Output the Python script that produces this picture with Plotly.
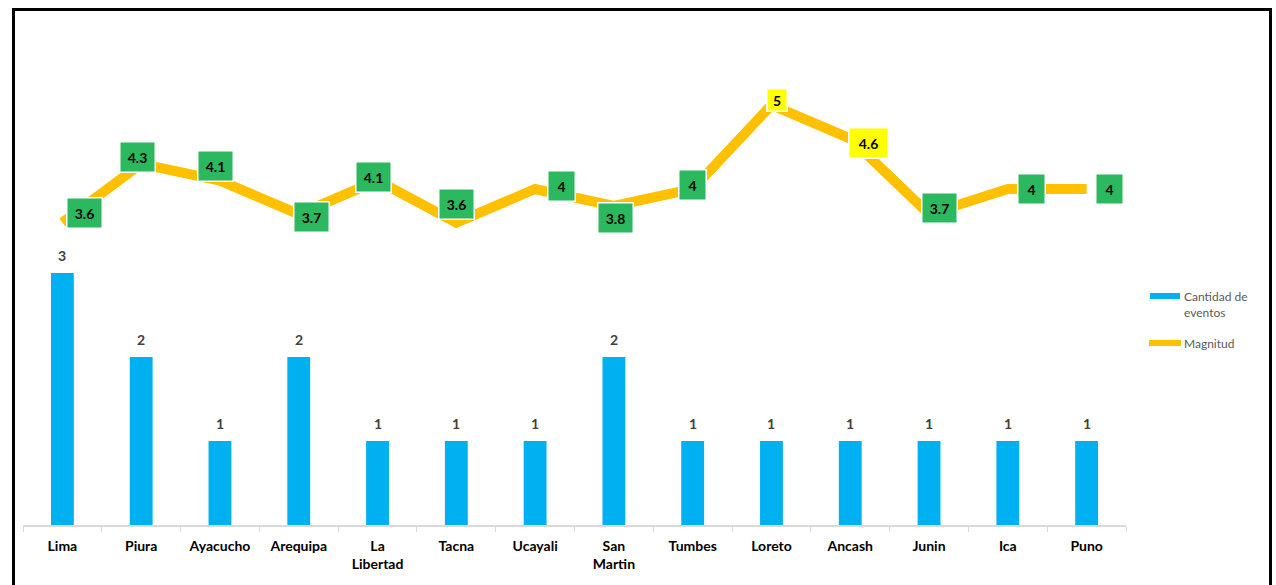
import plotly.graph_objects as go

regiones = ["Lima", "Piura", "Ayacucho", "Arequipa", "La<br>Libertad", "Tacna", "Ucayali",
            "San<br>Martin", "Tumbes", "Loreto", "Ancash", "Junin", "Ica", "Puno"]
cantidad = [3, 2, 1, 2, 1, 1, 1, 2, 1, 1, 1, 1, 1, 1]
magnitud = [3.6, 4.3, 4.1, 3.7, 4.1, 3.6, 4.0, 3.8, 4.0, 5.0, 4.6, 3.7, 4.0, 4.0]
etiqueta_dx = [22, -4, -4, 13, -4, 0, 26, 2, 0, 6, 18, 10, 24, 23]
etiqueta_dy = [10, 7, 15, -3, 4, 19, 3, -12, 4, 5, -4, 6, 0, 0]

W, H = 1276, 585
L, R, T, B = 23, 150, 21, 60
pw, ph = W - L - R, H - T - B

fig = go.Figure()
fig.add_trace(go.Bar(
    x=regiones, y=cantidad, name="Cantidad de eventos",
    marker=dict(color="#00B0F0", line=dict(width=0)), width=0.29,
    showlegend=False,
))
fig.add_trace(go.Scatter(
    x=regiones, y=magnitud, name="Magnitud", mode="lines",
    line=dict(color="#FFC000", width=10), showlegend=False,
))

for r, c in zip(regiones, cantidad):
    fig.add_annotation(
        x=r, y=c, xref="x", yref="y", text=f"<b>{c}</b>", showarrow=False,
        yanchor="middle", yshift=18,
        font=dict(family="Lato", size=14, color="#404040"),
    )

for i, (r, m) in enumerate(zip(regiones, magnitud)):
    yellow = m >= 4.5
    txt = f"{m:g}"
    single = len(txt) == 1
    fig.add_annotation(
        x=r, y=m, xref="x", yref="y", text=f"<b>{txt}</b>", showarrow=False,
        xshift=etiqueta_dx[i], yshift=etiqueta_dy[i],
        font=dict(family="Lato", size=14, color="#000000"),
        bgcolor="#FFFF00" if yellow else "#2BB85F",
        bordercolor="#FFFFFF", borderwidth=1.5,
        borderpad=3 if (yellow and single) else 5,
        width=(13 if yellow else 16) if single else (28 if yellow else 24),
        height=15 if (yellow and single) else 19,
    )

# frame
def px_x(p):
    return (p - L) / pw

def px_y(p):
    return (H - B - p) / ph

fig.add_shape(type="rect", xref="paper", yref="paper",
              x0=px_x(13.5), x1=px_x(1270.5), y0=px_y(590), y1=px_y(9.5),
              line=dict(color="#000000", width=3), fillcolor="rgba(0,0,0,0)", layer="above")

# custom legend
fig.add_shape(type="line", xref="paper", yref="paper",
              x0=px_x(1150), x1=px_x(1180), y0=px_y(296), y1=px_y(296),
              line=dict(color="#00B0F0", width=6))
fig.add_shape(type="line", xref="paper", yref="paper",
              x0=px_x(1149), x1=px_x(1181), y0=px_y(343), y1=px_y(343),
              line=dict(color="#FFC000", width=6))
fig.add_annotation(xref="paper", yref="paper", x=px_x(1182), y=px_y(304),
                   text="Cantidad de<br>eventos", showarrow=False, xanchor="left", yanchor="middle",
                   align="left", font=dict(family="Lato", size=12, color="#595959"))
fig.add_annotation(xref="paper", yref="paper", x=px_x(1182), y=px_y(343),
                   text="Magnitud", showarrow=False, xanchor="left", yanchor="middle",
                   align="left", font=dict(family="Lato", size=12, color="#595959"))

fig.update_layout(
    width=W, height=H,
    margin=dict(l=L, r=R, t=T, b=B),
    plot_bgcolor="white", paper_bgcolor="white",
    showlegend=False,
)
fig.update_xaxes(
    showline=True, linecolor="#D9D9D9", linewidth=1.5,
    ticks="outside", tickson="boundaries", ticklen=5, tickcolor="#D9D9D9",
    tickfont=dict(family="Lato", size=14, color="#000000"),
    tickprefix="<b>", ticksuffix="</b>", ticklabelstandoff=7,
    showgrid=False, fixedrange=True,
)
fig.update_yaxes(range=[0, 6], visible=False, showgrid=False, fixedrange=True)

fig.write_html("out.html", config={"displayModeBar": False},
               post_script="document.body.style.margin='0';document.body.style.overflow='hidden';")
